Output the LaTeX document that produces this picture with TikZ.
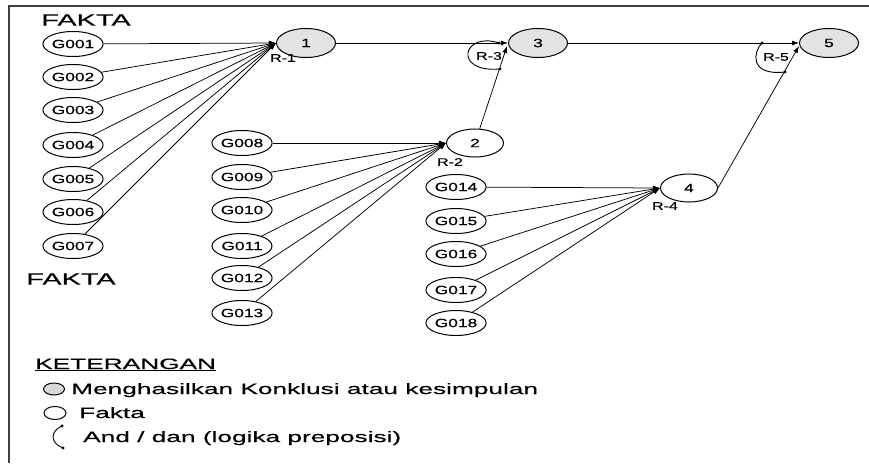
\documentclass[tikz,border=0pt]{standalone}
\usepackage{fontspec}
\setmainfont{Liberation Sans}
\newfontfamily\fsmall[FakeStretch=1.45,FakeBold=0.4]{Liberation Sans}
\newfontfamily\fbig[FakeStretch=1.75,FakeBold=0.4]{Liberation Sans}
\usetikzlibrary{shapes.geometric,arrows.meta}
\begin{document}
\begin{tikzpicture}[x=1pt,y=1pt,
  fact/.style={ellipse, draw, line width=1pt, minimum width=60pt, minimum height=25pt, inner sep=0pt, font=\fsmall\fontsize{12}{12}\selectfont},
  concl/.style={fact, fill=gray!22, minimum width=59pt, minimum height=29pt},
  mid/.style={fact, minimum width=57pt, minimum height=28pt},
  arr/.style={-{Latex[length=7pt,width=5pt]}, line width=0.75pt},
  rlab/.style={font=\fsmall\fontsize{11}{11}\selectfont, inner sep=0pt},
  anddot/.style={circle, fill, inner sep=0pt, minimum size=3.4pt},
  andarc/.style={line width=0.9pt},
  bigtxt/.style={font=\fbig\fontsize{16.5}{17}\selectfont, inner sep=0pt},
  legtxt/.style={font=\fbig\fontsize{15}{16}\selectfont, inner sep=0pt, anchor=base west}
]
\useasboundingbox (0,0) rectangle (869,-463);
\draw[line width=1.6pt, black!75] (9,-463) -- (9,-6) -- (869,-6);

% fact nodes
\node[fact] (g1) at (73,-44) {G001};
\node[fact] (g2) at (73,-77) {G002};
\node[fact] (g3) at (73,-110) {G003};
\node[fact] (g4) at (73,-145) {G004};
\node[fact] (g5) at (73,-179) {G005};
\node[fact] (g6) at (73,-212) {G006};
\node[fact] (g7) at (73,-246) {G007};
\node[fact] (g8) at (242,-143) {G008};
\node[fact] (g9) at (242,-177) {G009};
\node[fact] (g10) at (242,-210) {G010};
\node[fact] (g11) at (242,-246) {G011};
\node[fact] (g12) at (242,-278) {G012};
\node[fact] (g13) at (242,-313) {G013};
\node[fact] (g14) at (456,-187) {G014};
\node[fact] (g15) at (456,-221) {G015};
\node[fact] (g16) at (456,-254) {G016};
\node[fact] (g17) at (456,-290) {G017};
\node[fact] (g18) at (456,-323) {G018};

% rule nodes
\node[concl] (n1) at (306,-43) {1};
\node[concl] (n3) at (538,-43) {3};
\node[concl] (n5) at (829,-43) {5};
\node[mid] (n2) at (475,-143) {2};
\node[mid] (n4) at (689,-188) {4};

% edges
\foreach \i in {1,...,7} \draw[arr] (g\i) -- (n1.west);
\foreach \i in {8,...,13} \draw[arr] (g\i) -- (n2.west);
\foreach \i in {14,...,18} \draw[arr] (g\i) -- (n4.west);
\coordinate (e3) at ([xshift=-1pt,yshift=-3pt]n3.west);
\coordinate (e5) at ([yshift=-3pt]n5.west);
\draw[arr] (n1) -- (n3.west);
\draw[arr] (n3) -- (n5.west);
\draw[arr] (n2) -- (e3);
\draw[arr] (n4.east) -- (e5);

% and arcs
\coordinate (a3) at (499,-43);
\coordinate (b3) at (500,-69);
\coordinate (a5) at (762,-43);
\coordinate (b5) at (785,-72);
\draw[andarc] (a3) .. controls (463,-31) and (452,-73) .. (b3);
\draw[andarc] (a5) .. controls (753,-52) and (749,-76) .. (b5);
\foreach \p in {a3,b3,a5,b5} \node[anddot] at (\p) {};

% rule labels
\node[rlab] (r1) at (283,-58) {R-1};
\node[rlab] (r2) at (450,-162) {R-2};
\node[rlab] (r3) at (489,-56) {R-3};
\node[rlab] (r4) at (665,-206) {R-4};
\node[rlab] (r5) at (776,-57) {R-5};

% FAKTA labels
\node[bigtxt] (fk1) at (86,-20) {FAKTA};
\node[bigtxt] (fk2) at (71,-279) {FAKTA};

% legend
\node[legtxt] (ket) at (35,-369) {\underline{KETERANGAN}};
\node[ellipse, draw, line width=1pt, fill=gray!30, minimum width=21pt, minimum height=12pt, inner sep=0pt] (lg1) at (54,-389) {};
\node[legtxt] (lt1) at (71,-394) {Menghasilkan Konklusi atau kesimpulan};
\node[ellipse, draw, line width=1pt, minimum width=22pt, minimum height=13pt, inner sep=0pt] (lg2) at (55,-413) {};
\node[legtxt] (lt2) at (79,-418) {Fakta};
\coordinate (la) at (62,-426);
\coordinate (lb) at (63,-448);
\draw[andarc] (la) .. controls (50,-431) and (50,-443) .. (lb);
\node[anddot] at (la) {};
\node[anddot] at (lb) {};
\node[legtxt] (lt3) at (83,-442) {And / dan (logika preposisi)};
\end{tikzpicture}
\end{document}
